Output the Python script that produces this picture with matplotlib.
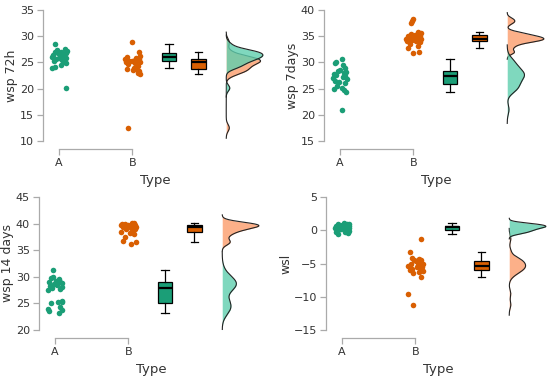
import numpy as np
import matplotlib
matplotlib.use("Agg")
import matplotlib.pyplot as plt

# 数据：每个面板两组（A, B），y 值 + 抖动偏移
groups = ["A", "B"]
ylabels = ["wsp 72h", "wsp 7days", "wsp 14 days", "wsl"]
yticks_list = [[10, 15, 20, 25, 30, 35], [15, 20, 25, 30, 35, 40],
               [20, 25, 30, 35, 40, 45], [-15, -10, -5, 0, 5]]

a_72h = [20.1, 24.0, 24.1, 24.5, 24.8, 25.0, 25.3, 25.5, 25.6, 25.8, 26.0, 26.1,
         26.3, 26.5, 26.6, 26.7, 26.8, 26.9, 27.0, 27.2, 27.4, 27.6, 28.5, 25.9]
a_72h_dx = [0.10, -0.10, -0.06, 0.02, 0.10, 0.06, -0.07, 0.04, -0.04, 0.09, -0.10, 0.07,
            0.01, -0.08, 0.05, 0.10, -0.02, -0.06, 0.03, 0.11, -0.03, 0.08, -0.05, 0.00]
b_72h = [12.5, 22.7, 23.0, 23.3, 23.5, 23.7, 23.8, 24.0, 24.3, 24.6, 24.8, 25.0,
         25.0, 25.2, 25.3, 25.4, 25.5, 25.6, 25.7, 25.8, 26.0, 26.2, 27.0, 28.8]
b_72h_dx = [-0.06, 0.10, 0.07, 0.09, 0.01, 0.05, -0.07, 0.02, 0.08, -0.06, 0.03, 0.10,
            -0.09, -0.05, 0.00, 0.04, 0.07, -0.10, 0.09, 0.05, -0.08, 0.10, 0.09, -0.01]

a_7d = [21.0, 24.4, 24.8, 25.0, 25.2, 25.5, 26.0, 26.2, 26.5, 26.8, 27.0, 27.3,
        27.5, 27.6, 27.8, 28.0, 28.2, 28.3, 28.5, 29.0, 29.5, 29.8, 30.0, 30.7]
a_7d_dx = [0.03, 0.08, 0.05, -0.08, 0.02, -0.04, 0.06, -0.02, -0.07, 0.09, -0.10, 0.04,
           0.07, -0.05, -0.09, 0.05, 0.08, -0.03, 0.00, 0.07, 0.04, -0.07, -0.05, 0.02]
b_7d = [31.8, 32.0, 32.7, 33.2, 33.5, 33.8, 34.0, 34.0, 34.1, 34.2, 34.3, 34.4, 34.5, 34.5,
        34.6, 34.7, 34.8, 34.9, 35.0, 35.1, 35.2, 35.4, 35.6, 35.8, 37.5, 37.9, 38.3]
b_7d_dx = [0.00, 0.07, -0.07, 0.06, -0.04, 0.09, -0.09, 0.03, 0.08, -0.02, -0.06, 0.05, 0.10, -0.10,
           0.01, -0.05, 0.07, 0.04, -0.08, 0.09, 0.02, -0.03, 0.10, 0.06, -0.03, -0.02, -0.01]

a_14d = [23.2, 23.5, 23.8, 24.0, 24.3, 25.0, 25.2, 25.3, 25.5, 27.5, 27.8, 27.9,
         28.0, 28.2, 28.5, 28.6, 28.8, 29.0, 29.1, 29.2, 29.5, 29.8, 30.0, 31.2]
a_14d_dx = [0.05, -0.08, 0.10, -0.10, 0.07, -0.06, 0.09, 0.04, 0.10, -0.10, 0.06, -0.04,
            0.09, -0.07, 0.03, -0.02, 0.10, -0.09, 0.06, 0.01, 0.05, -0.05, -0.03, -0.03]
b_14d = [36.2, 36.5, 36.8, 37.5, 38.0, 38.3, 38.5, 38.8, 38.9, 39.0, 39.2, 39.3,
         39.4, 39.5, 39.5, 39.6, 39.7, 39.8, 39.8, 39.9, 39.9, 40.0, 40.1, 40.2]
b_14d_dx = [0.04, 0.10, -0.08, -0.05, 0.08, 0.02, -0.10, 0.06, 0.09, -0.03, 0.04, -0.08,
            0.10, -0.06, 0.03, 0.07, -0.10, 0.00, 0.09, -0.04, 0.06, -0.09, 0.08, 0.05]

a_wsl = [-0.6, -0.4, -0.3, -0.2, -0.1, 0.0, 0.1, 0.2, 0.3, 0.3, 0.4,
         0.5, 0.6, 0.6, 0.7, 0.7, 0.8, 0.9, 0.9, 1.0, 1.1, 0.5]
a_wsl_dx = [-0.05, 0.08, -0.09, 0.04, 0.10, -0.06, 0.07, -0.02, 0.10, -0.10, 0.03,
            -0.07, 0.09, -0.03, 0.05, -0.09, 0.00, 0.10, -0.06, 0.06, 0.02, 0.08]
b_wsl = [-11.2, -9.6, -7.0, -6.5, -6.3, -6.2, -6.0, -5.9, -5.8, -5.6, -5.5, -5.4,
         -5.3, -5.2, -5.1, -5.0, -4.8, -4.6, -4.5, -4.4, -4.3, -4.2, -3.2, -1.3]
b_wsl_dx = [-0.03, -0.10, 0.08, -0.03, 0.05, 0.10, -0.08, 0.07, -0.05, 0.02, 0.09, -0.10,
            0.04, 0.06, -0.06, 0.10, 0.07, 0.01, -0.02, 0.08, 0.05, -0.04, -0.08, 0.07]

panels = [(a_72h, a_72h_dx, b_72h, b_72h_dx),
          (a_7d, a_7d_dx, b_7d, b_7d_dx),
          (a_14d, a_14d_dx, b_14d, b_14d_dx),
          (a_wsl, a_wsl_dx, b_wsl, b_wsl_dx)]

dark = ["#1b9e77", "#d95f02"]
light = ["#5fcfae", "#fc9d6c"]


def kde(values):
    # R 的 density() 默认：bw.nrd0，cut = 3
    v = np.asarray(values, float)
    q75, q25 = np.percentile(v, [75, 25])
    bw = 0.9 * min(v.std(ddof=1), (q75 - q25) / 1.34) * len(v) ** -0.2
    grid = np.linspace(v.min() - 3 * bw, v.max() + 3 * bw, 400)
    dens = np.exp(-0.5 * ((grid[:, None] - v[None, :]) / bw) ** 2).sum(1)
    dens /= len(v) * bw * np.sqrt(2 * np.pi)
    return grid, dens


fig = plt.figure(figsize=(5.5, 3.8), dpi=100)
W, H = 550, 380
boxes = [[43, 10, 225, 131], [324, 10, 225, 131], [39, 197, 225, 133], [326, 197, 225, 133]]

for i, (ay, adx, by, bdx) in enumerate(panels):
    x0, y0, w, h = boxes[i]
    ax = fig.add_axes([x0 / W, (H - y0 - h) / H, w / W, h / H])
    yt = yticks_list[i]

    # 散点
    for j, (ys, dxs) in enumerate([(ay, adx), (by, bdx)]):
        ax.scatter(np.array(dxs) + j + 1, ys, s=16, color=dark[j], lw=0, zorder=3)

    # 箱线图
    bp = ax.boxplot([ay, by], positions=[2.5, 2.9], widths=0.2, patch_artist=True,
                    showfliers=False, whis=1.5,
                    medianprops=dict(color="black", lw=1.6),
                    whiskerprops=dict(color="black", lw=0.9),
                    capprops=dict(color="black", lw=0.9),
                    boxprops=dict(edgecolor="black", lw=0.9))
    for patch, c in zip(bp["boxes"], dark):
        patch.set_facecolor(c)

    # 密度（雨云）
    base = 3.28
    curves = [kde(ay), kde(by)]
    peak = max(d.max() for _, d in curves)
    for j in [1, 0]:
        g, d = curves[j]
        xs = base + d / peak * 0.5
        ax.fill_betweenx(g, base, xs, color=light[j], alpha=0.8, lw=0, zorder=2)
        ax.plot(xs, g, color="#222222", lw=0.8, zorder=2)

    ax.set_xlim(0.78, 3.85)
    ax.set_ylim(yt[0], yt[-1])
    ax.set_xticks([1, 2])
    ax.set_xticklabels(groups)
    ax.set_yticks(yt)
    for s in ["top", "right"]:
        ax.spines[s].set_visible(False)
    ax.spines["bottom"].set_position(("outward", 6))
    ax.spines["bottom"].set_bounds(1, 2)
    ax.spines["left"].set_bounds(yt[0], yt[-1])
    for s in ["left", "bottom"]:
        ax.spines[s].set_color("#aaaaaa")
        ax.spines[s].set_linewidth(0.9)
    ax.tick_params(colors="#aaaaaa", labelcolor="#333333", labelsize=8, length=4, width=0.9, pad=2.5)
    ax.set_xlabel("Type", fontsize=9.5, color="#333333", labelpad=4)
    ax.set_ylabel(ylabels[i], fontsize=9, color="#333333", labelpad=1)

fig.savefig("out.png", dpi=100)
